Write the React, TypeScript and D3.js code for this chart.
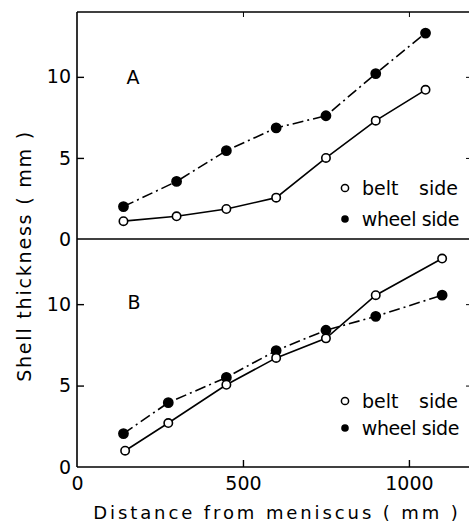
import { useEffect, useRef } from "react";
import * as d3 from "d3";

// distance from meniscus (mm)
const distA = [140, 300, 450, 600, 750, 900, 1050];
const beltA = [1.1, 1.4, 1.85, 2.55, 5.0, 7.3, 9.2];
const wheelA = [2.0, 3.55, 5.45, 6.85, 7.6, 10.2, 12.7];

const distBeltB = [145, 275, 450, 600, 750, 900, 1100];
const beltB = [1.0, 2.7, 5.05, 6.7, 7.9, 10.55, 12.8];
const distWheelB = [140, 275, 450, 600, 750, 900, 1100];
const wheelB = [2.05, 3.95, 5.5, 7.15, 8.4, 9.25, 10.55];

const xTicks = [0, 500, 1000];
const yTicks = [0, 5, 10];

const W = 469;
const H = 523;
const FONT = "DejaVu Sans";

export default function App() {
  const ref = useRef<SVGSVGElement>(null);

  useEffect(() => {
    const svg = d3.select(ref.current);
    svg.selectAll("*").remove();

    const left = 77, right = 472, top = 12, mid = 239, bottom = 467;
    const x = d3.scaleLinear().domain([0, 1190]).range([left, right]);
    const yA = d3.scaleLinear().domain([0, 14]).range([mid, top]);
    const yB = d3.scaleLinear().domain([0, 14]).range([bottom, mid]);

    const g = svg.append("g").attr("font-family", FONT).attr("fill", "#000");

    // frame (right side sits just off the picture)
    const frame = g.append("g").attr("stroke", "#000").attr("stroke-width", 1.6);
    frame.append("line").attr("x1", left).attr("x2", left).attr("y1", top).attr("y2", bottom);
    frame.append("line").attr("x1", left).attr("x2", right).attr("y1", top).attr("y2", top);
    frame.append("line").attr("x1", left).attr("x2", right).attr("y1", mid).attr("y2", mid);
    frame.append("line").attr("x1", left).attr("x2", right).attr("y1", bottom).attr("y2", bottom);
    frame.append("line").attr("x1", right).attr("x2", right).attr("y1", top).attr("y2", bottom);

    // y axes
    [yA, yB].forEach((y) => {
      const ax = g.append("g")
        .attr("transform", `translate(${left},0)`)
        .call(d3.axisLeft(y).tickValues(yTicks).tickSizeInner(-7).tickSizeOuter(0).tickPadding(6));
      ax.select(".domain").remove();
      ax.selectAll("line").attr("stroke-width", 1.4);
      ax.selectAll("text").attr("font-family", FONT).attr("font-size", 19).attr("fill", "#000");
      ax.selectAll(".tick").filter((d: any) => d === 0).select("line").remove();

      const rx = g.append("g")
        .attr("transform", `translate(${right},0)`)
        .call(d3.axisRight(y).tickValues([5, 10]).tickSizeInner(-6).tickSizeOuter(0).tickFormat(() => ""));
      rx.select(".domain").remove();
    });

    // x axis (bottom)
    const xa = g.append("g")
      .attr("transform", `translate(0,${bottom})`)
      .call(d3.axisBottom(x).tickValues(xTicks).tickFormat(d3.format("d")).tickSizeInner(-7).tickSizeOuter(0).tickPadding(10));
    xa.select(".domain").remove();
    xa.selectAll("line").attr("stroke-width", 1.4);
    xa.selectAll(".tick").filter((d: any) => d === 0).select("line").remove();
    xa.selectAll("text").attr("font-family", FONT).attr("font-size", 19).attr("fill", "#000");

    // ticks on the top edge
    const xt = g.append("g")
      .attr("transform", `translate(0,${top})`)
      .call(d3.axisTop(x).tickValues([500, 1000]).tickSizeInner(-5).tickSizeOuter(0).tickFormat(() => ""));
    xt.select(".domain").remove();

    const dashDot = "11,4,2,4";

    const drawSeries = (xs: number[], ys: number[], y: d3.ScaleLinear<number, number>, filled: boolean) => {
      const pts = xs.map((d, i) => [x(d), y(ys[i])] as [number, number]);
      g.append("path")
        .attr("d", d3.line()(pts))
        .attr("fill", "none")
        .attr("stroke", "#000")
        .attr("stroke-width", 1.6)
        .attr("stroke-dasharray", filled ? dashDot : null);
      g.append("g").selectAll("circle").data(pts).join("circle")
        .attr("cx", (d) => d[0])
        .attr("cy", (d) => d[1])
        .attr("r", filled ? 4.6 : 4.2)
        .attr("fill", filled ? "#000" : "#fff")
        .attr("stroke", "#000")
        .attr("stroke-width", 1.6);
    };

    drawSeries(distA, wheelA, yA, true);
    drawSeries(distA, beltA, yA, false);
    drawSeries(distWheelB, wheelB, yB, true);
    drawSeries(distBeltB, beltB, yB, false);

    // panel letters
    g.append("text").attr("x", 133).attr("y", 84).attr("text-anchor", "middle").attr("font-size", 19).text("A");
    g.append("text").attr("x", 134).attr("y", 309).attr("text-anchor", "middle").attr("font-size", 19).text("B");

    // legends
    const legend = (yBelt: number, yWheel: number) => {
      g.append("circle").attr("cx", 345).attr("cy", yBelt).attr("r", 3.6)
        .attr("fill", "#fff").attr("stroke", "#000").attr("stroke-width", 1.5);
      g.append("text").attr("x", 362).attr("y", yBelt + 7).attr("font-size", 19).text("belt");
      g.append("text").attr("x", 458).attr("y", yBelt + 7).attr("font-size", 19).attr("text-anchor", "end").text("side");
      g.append("circle").attr("cx", 345).attr("cy", yWheel).attr("r", 3.8).attr("fill", "#000");
      g.append("text").attr("x", 459).attr("y", yWheel + 7).attr("font-size", 19)
        .attr("text-anchor", "end").attr("letter-spacing", -0.4).text("wheel side");
    };
    legend(188, 219);
    legend(401, 428);

    // axis titles
    g.append("text")
      .attr("x", 277).attr("y", 519)
      .attr("text-anchor", "middle").attr("font-size", 18).attr("letter-spacing", 2.9)
      .text("Distance from meniscus ( mm )");
    g.append("text")
      .attr("transform", "translate(31,256) rotate(-90)")
      .attr("text-anchor", "middle").attr("font-size", 19).attr("letter-spacing", 1.8)
      .text("Shell thickness ( mm )");
  }, []);

  return (
    <svg ref={ref} width={W} height={H} style={{ position: "absolute", left: 0, top: 0, background: "#fff" }} />
  );
}
